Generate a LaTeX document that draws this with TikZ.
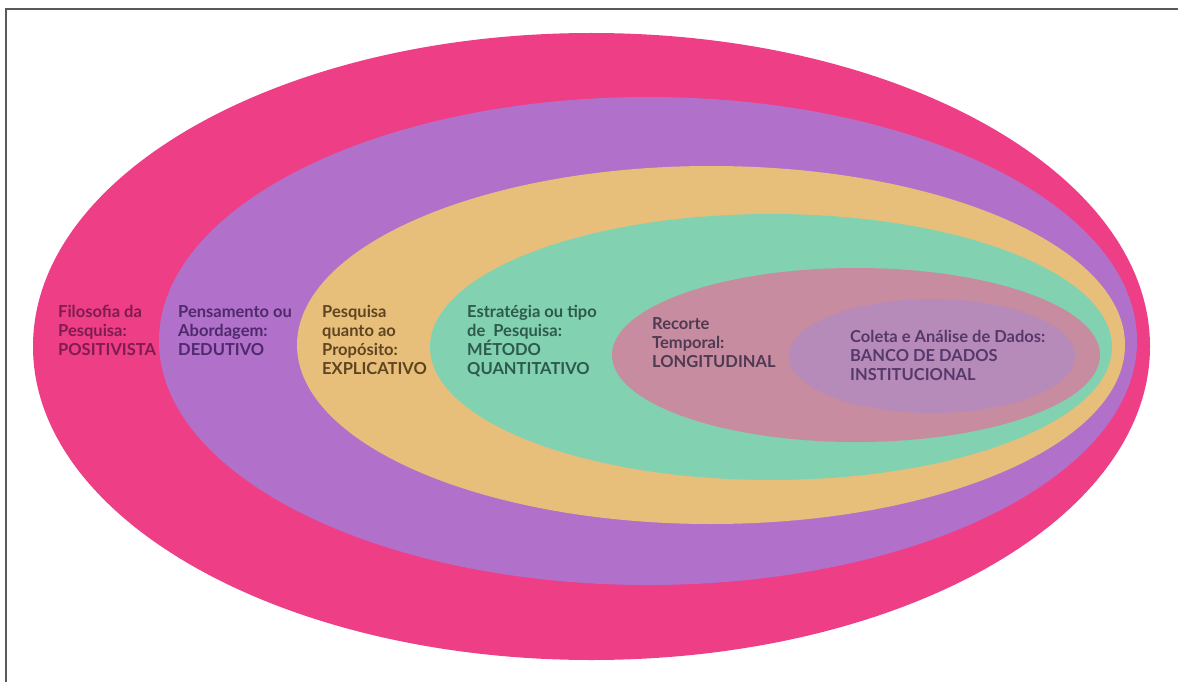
\documentclass[tikz,border=0pt]{standalone}
\usepackage{fontspec}
\setmainfont{Lato}
\begin{document}
\definecolor{ringpink}{HTML}{EE3E86}
\definecolor{ringviolet}{HTML}{B170C9}
\definecolor{ringsand}{HTML}{E8BF7A}
\definecolor{ringmint}{HTML}{82D1B1}
\definecolor{ringrose}{HTML}{C78C9F}
\definecolor{ringlilac}{HTML}{B68BBA}
\definecolor{txtpink}{HTML}{7E1C52}
\definecolor{txtviolet}{HTML}{4E2A6C}
\definecolor{txtsand}{HTML}{5E4420}
\definecolor{txtmint}{HTML}{2D5A4C}
\definecolor{txtrose}{HTML}{4E3A52}
\definecolor{txtlilac}{HTML}{56396A}
\begin{tikzpicture}[x=1pt,y=-1pt,
  ring/.style={draw=none},
  label/.style={anchor=north west,inner sep=0pt,align=left,
    font=\fontsize{16.5}{19}\selectfont\bfseries}]
  \useasboundingbox (0,0) rectangle (1178,682);
  \fill[white] (0,0) rectangle (1178,682);
  % frame lines
  \draw[line width=2pt,color=black!65] (6,682) -- (6,9) -- (1178,9);
  % nested ellipses, outermost first
  \fill[ring,ringpink]   (591.5,346.5) ellipse [x radius=558.5, y radius=313.5];
  \fill[ring,ringviolet] (648,341)     ellipse [x radius=489, y radius=244];
  \fill[ring,ringsand]   (711,345)     ellipse [x radius=414, y radius=179];
  \fill[ring,ringmint]   (771,347)     ellipse [x radius=341, y radius=133];
  \fill[ring,ringrose]   (856,355)     ellipse [x radius=244, y radius=87];
  \fill[ring,ringlilac]  (932,356)     ellipse [x radius=143, y radius=57];
  % labels
  \node[label,text=txtpink]   (filo) at (58,305)  {Filosofia da\\Pesquisa:\\POSITIVISTA};
  \node[label,text=txtviolet] (pens) at (178,305) {Pensamento ou\\Abordagem:\\DEDUTIVO};
  \node[label,text=txtsand]   (prop) at (322,305) {Pesquisa\\quanto ao\\Propósito:\\EXPLICATIVO};
  \node[label,text=txtmint]   (estr) at (467,305) {Estratégia ou tipo\\de\ \ Pesquisa:\\MÉTODO\\QUANTITATIVO};
  \node[label,text=txtrose]   (reco) at (652,317) {Recorte\\Temporal:\\LONGITUDINAL};
  \node[label,text=txtlilac]  (cole) at (850,330) {Coleta e Análise de Dados:\\BANCO DE DADOS\\INSTITUCIONAL};
\end{tikzpicture}
\end{document}
